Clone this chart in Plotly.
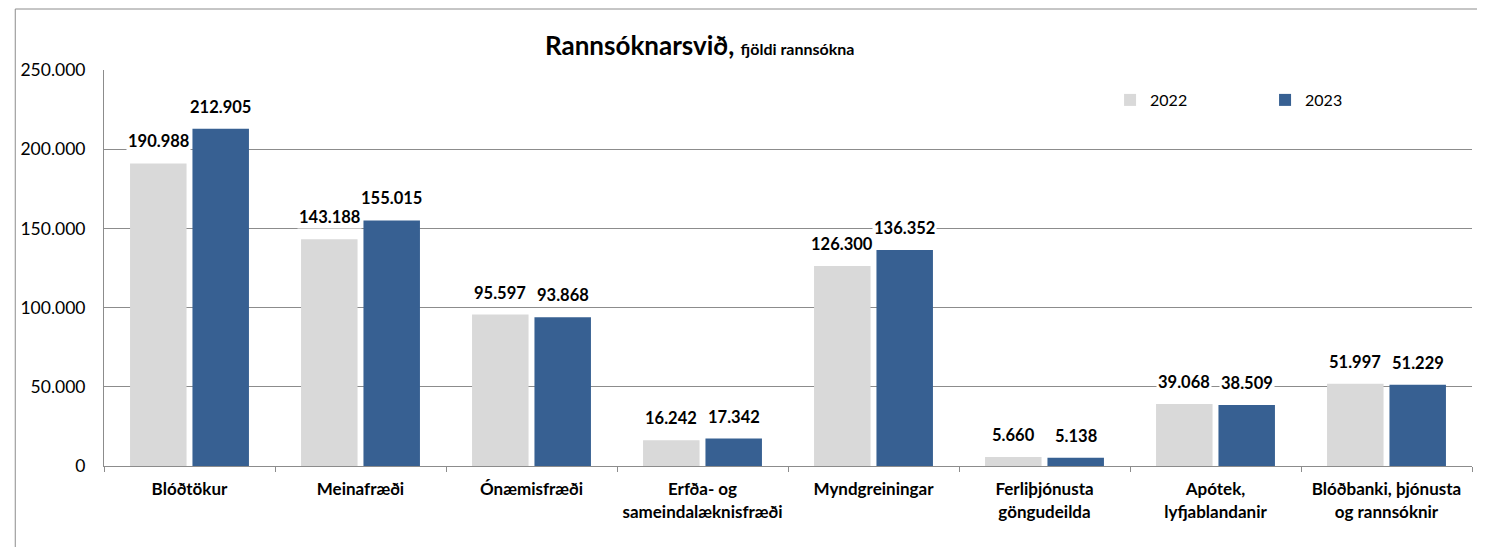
import plotly.graph_objects as go

categories = ["Blóðtökur", "Meinafræði", "Ónæmisfræði", "Erfða- og<br>sameindalæknisfræði",
              "Myndgreiningar", "Ferliþjónusta<br>göngudeilda", "Apótek,<br>lyfjablandanir",
              "Blóðbanki, þjónusta<br>og rannsóknir"]
values_2022 = [190988, 143188, 95597, 16242, 126300, 5660, 39068, 51997]
values_2023 = [212905, 155015, 93868, 17342, 136352, 5138, 38509, 51229]
series_names = ["2022", "2023"]
colors = ["#D9D9D9", "#376092"]
y_ticks = [0, 50000, 100000, 150000, 200000, 250000]

W, H = 1485, 547
ML, MR, MT, MB = 92, 21, 62, 89
plot_w = W - ML - MR
plot_h = H - MT - MB
bargap = 0.27
groupgap = 0.095
font = "Lato"
grid = "#8C8C8C"

fig = go.Figure()
for name, vals, col in zip(series_names, [values_2022, values_2023], colors):
    fig.add_trace(go.Bar(x=categories, y=vals, name=name, marker=dict(color=col, line=dict(width=0))))

cat_w = plot_w / len(categories)
slot = cat_w * (1 - bargap) / 2


def fmt(v):
    return f"{v:,}".replace(",", ".")


anns = []
for i, vals in enumerate([values_2022, values_2023]):
    shift = (i - 0.5) * slot
    for c, v in zip(categories, vals):
        anns.append(dict(x=c, y=v, xref="x", yref="y", text=f"<b>{fmt(v)}</b>", showarrow=False,
                         xshift=shift, yshift=22, yanchor="middle", bgcolor="white",
                         font=dict(family=font, size=16.5, color="black")))

# title
anns.append(dict(xref="paper", yref="paper", x=(689 - ML) / plot_w, y=(H - MB - 37) / plot_h,
                 xanchor="center", yanchor="middle", showarrow=False,
                 text="<b><span style='font-size:26px'>Rannsóknarsvið,</span> <span style='font-size:16px'>fjöldi rannsókna</span></b>",
                 font=dict(family=font, size=26, color="black")))

fig.update_layout(
    width=W, height=H, margin=dict(l=ML, r=MR, t=MT, b=MB, pad=0),
    paper_bgcolor="white", plot_bgcolor="white",
    barmode="group", bargap=bargap, bargroupgap=groupgap,
    separators=",.",
    font=dict(family=font, size=16, color="black"),
    legend=dict(orientation="h", x=(1101 - ML) / plot_w, y=(H - MB - 92) / plot_h,
                xanchor="left", yanchor="middle", entrywidth=110, entrywidthmode="pixels",
                font=dict(family=font, size=16), bgcolor="rgba(0,0,0,0)"),
    annotations=anns,
    showlegend=True,
    shapes=[dict(type="rect", xref="paper", yref="paper",
                 x0=(3 - ML) / plot_w, x1=1.1, y0=-0.5, y1=(H - MB - 1) / plot_h,
                 line=dict(color=grid, width=1), fillcolor="rgba(0,0,0,0)", layer="below")],
)
fig.update_xaxes(type="category", tickson="boundaries", ticks="outside", ticklen=5, tickcolor=grid,
                 showline=True, linecolor=grid, linewidth=1, ticklabelstandoff=8,
                 tickprefix="<b>", ticksuffix="</b>",
                 tickfont=dict(family=font, size=17, color="black"))
fig.update_yaxes(range=[0, 250000], tickvals=y_ticks, tickformat=",d", showgrid=True, gridcolor=grid,
                 gridwidth=1, showline=True, linecolor=grid, linewidth=1, zeroline=False,
                 ticks="", ticklabelstandoff=14, tickfont=dict(family=font, size=17.5, color="black"))
fig.write_html("out.html")
